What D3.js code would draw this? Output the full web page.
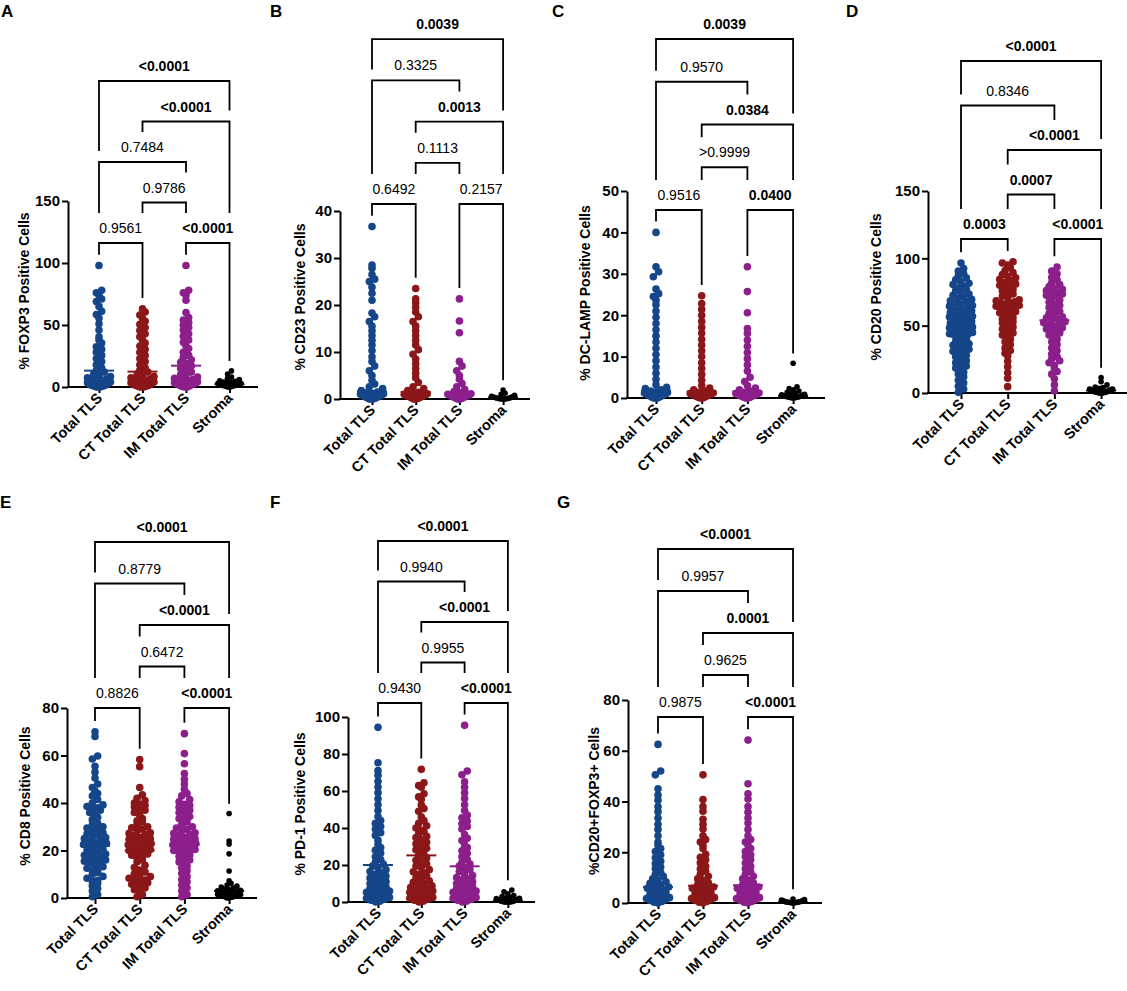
<!DOCTYPE html>
<html><head><meta charset="utf-8">
<script src="https://cdn.jsdelivr.net/npm/d3@7"></script>
<style>body{margin:0;background:#fff} svg{display:block} text{font-family:"Liberation Sans",Arial,Helvetica,sans-serif}</style>
</head><body><svg id="chart" width="1127" height="991"></svg>
<script>
const categories = ["Total TLS","CT Total TLS","IM Total TLS","Stroma"];
const colors = ["#15468a","#8b1719","#8c1f8c","#000000"];

// A: FOXP3
const foxp3Total = [0,0,0.3,0.5,0.8,1,1.2,1.5,2,2.5,3,3.5,4,4.5,5,5.5,6,6.5,7.5,8.5,9.5,10.5,12,13.5,15.5,18,20.5,23,25.5,28,30.5,32.5,35.5,38,40.5,46,51,55.5,58.5,61,65,69,71,74,76,78,98];
const foxp3Ct = [0,0,0.3,0.5,0.8,1,1.3,1.6,2,2.5,3,3.5,4,4.5,5,5.5,6,6.5,7.5,8.5,9.5,10.5,12,13.5,15.5,18,20.5,23,25.5,28,30.5,33,35.5,38,40.5,43,45.5,48,50.5,53,55.5,58,60.5,63];
const foxp3Im = [0,0,0.5,1,1.5,2,2.5,3,3.5,4,4.5,5,5.5,6,7,8,9,10,12,14,15,17,19,20,22,24,25.5,28,31,33,36,38,41,43,46,48,50,52,54,56,60,70,74,76,78,98];
const foxp3Stroma = [0,0,0.3,0.5,0.5,0.8,1,1,1,1.2,1.5,1.5,1.8,2,2,2,2.5,2.5,3,3,3.5,3.8,4,4.5,5,6,7,8,10.5,13];
const meanFoxp3 = [13.2,12.4,17.2,2.2];
const ticksFoxp3 = [0,50,100,150];
const pFoxp3 = ["<0.0001","<0.0001","0.7484","0.9786","0.9561","<0.0001"];

// B: CD23
const cd23Total = [0,0,0,0.1,0.2,0.3,0.4,0.5,0.6,0.7,0.8,0.9,1,1.1,1.2,1.3,1.5,1.8,2.2,2.6,3.2,4,5,6,7,8,9,10.3,11.5,12.5,13.5,14.5,15.5,16.5,17.5,18.3,21,22.5,23.8,25,25.5,26.5,27.8,28.5,36.7];
const cd23Ct = [0,0,0.1,0.2,0.3,0.4,0.5,0.6,0.7,0.8,0.9,1,1.1,1.2,1.4,1.8,2.2,2.6,3.5,4.5,5.5,6.5,7.5,8.5,9.5,10.5,11.5,12.5,13.5,14.5,15.5,16.5,17.5,18.5,19.5,20.5,21.3,23.5];
const cd23Im = [0,0,0.1,0.2,0.3,0.4,0.5,0.6,0.7,0.8,0.9,1,1.1,1.3,1.6,2,2.6,3.3,4.2,5,6,7,8,14.1,16.6,21.3];
const cd23Stroma = [0,0,0,0,0.1,0.1,0.2,0.2,0.3,0.3,0.4,0.5,0.6,0.8,1,1.2,1.9];
const meanCd23 = [1.6,1.5,1.2,0.3];
const ticksCd23 = [0,10,20,30,40];
const pCd23 = ["0.0039","0.3325","0.0013","0.1113","0.6492","0.2157"];

// C: DC-LAMP
const dclampTotal = [0,0,0,0.1,0.2,0.3,0.4,0.5,0.6,0.7,0.8,0.9,1,1.1,1.2,1.3,1.5,1.7,2,2.3,2.6,3.2,4.5,6,7.5,9,10.5,12,13.5,15,16.5,18,19.5,21,22.5,23.6,24.5,25.2,26.3,29.3,30.5,31.7,40];
const dclampCt = [0,0,0.1,0.2,0.3,0.4,0.5,0.6,0.7,0.8,0.9,1,1.1,1.2,1.4,1.7,2,2.4,3,4.3,5.7,7.1,8.5,10,11.4,12.8,14.2,15.7,17.1,18.5,20,21.4,22.8,24.7];
const dclampIm = [0,0,0.1,0.2,0.3,0.4,0.5,0.6,0.7,0.8,0.9,1,1.1,1.2,1.4,1.7,2,2.4,3,4,5,6.5,8,9.5,11,12.5,14,15.6,16.8,20.6,25.7,31.7];
const dclampStroma = [0,0,0.1,0.1,0.2,0.2,0.3,0.3,0.4,0.5,0.6,0.7,0.8,0.9,1,1.2,1.4,1.7,2,2.3,2.7,8.4];
const meanDclamp = [1.8,1.6,1.6,0.5];
const ticksDclamp = [0,10,20,30,40,50];
const pDclamp = ["0.0039","0.9570","0.0384",">0.9999","0.9516","0.0400"];

// D: CD20
const cd20Total = [0.5,3,5,7.5,9.5,12,14,15.5,17,18.5,20,21.5,22.5,24,25.5,27,28,29,30,31,32.5,33.5,34.5,35.5,36.5,37.5,38.5,40,41,42,43,43.5,44,45,45.5,46,47,47.5,48.5,49,50,50.5,51,52,53,53.5,54,55,55.5,56.5,57,58,58.5,59.5,60,61,61.5,62,63,63.5,64.5,65,66,67,68,68.5,69.5,70.5,71.5,72.5,73.5,75,76,77,78,79,80.5,81.5,82.5,84,85.5,87,88.5,90.5,92.5,96.5];
const cd20Ct = [4.7,11,15,19.5,23.5,27.5,29.5,31.5,33.5,36,38,40,42,43,44.5,46,47.5,49,50.5,52,53,54,55,56,57.5,58.5,59.5,60.5,61.5,62.2,63,63.8,64.5,65.2,65.8,66.5,67,67.8,68.5,69.3,70.5,72,73.5,75,76,77,78,79,80,81,82,83.5,84.5,85.5,86.5,88,89.5,91,93,95,96.5,97.5];
const cd20Im = [1.5,6,10.5,14,16,18.5,20.5,22.5,24,25.5,27,29,31.5,33.5,36,38,40,41.5,43,44.5,45.5,46.5,47.5,48.5,49.5,50.5,51.5,52.2,53,54,55,55.8,56.5,57.5,59,60.5,62,63.5,65,66,67.5,69,70.5,71.5,72.5,73.5,74,75,76,77,78,79,80.5,82,84,86,88.5,90.5,93.5];
const cd20Stroma = [0,0,0,0,0.3,0.5,0.5,0.5,0.8,1,1,1,1.2,1.5,1.5,2,2,2,2.5,2.5,3,3,3.5,4,4.5,6,8.4,11.4];
const meanCd20 = [57,64,54,1.8];
const ticksCd20 = [0,50,100,150];
const pCd20 = ["<0.0001","0.8346","<0.0001","0.0007","0.0003","<0.0001"];

// E: CD8
const cd8Total = [0.5,1.5,3,4,5.2,6.2,7,7.5,8.3,9.1,10,10.8,11.6,12.2,12.5,13.2,14,14.6,15,15.5,16,16.5,17,17.5,18,18.5,19,19.5,20,20.5,21,21.5,22,22.2,22.5,23,23.5,24,24.5,25,25.5,26,26.5,27,27.5,28.3,29,29.5,30,30.8,31.5,33,34,35,36,37,37.5,38,38.5,39.2,40,41.5,43,44,45,46.5,48,50.5,53,55.5,58.5,59.8,68,70];
const cd8Ct = [0.5,1.5,2.8,3.5,4.2,4.8,5.2,5.8,6.4,7,7.3,7.6,8.3,9,9.6,10.2,11,11.8,12.8,13.8,15.2,16,16.8,17.5,18,18.5,19,19.5,19.7,20,20.4,20.9,21.3,21.7,22.1,22.4,22.9,23.4,23.9,24.4,24.7,25,25.6,26.2,26.8,27.2,27.5,28.3,29,29.6,30,31,32,32.5,33.5,35,36,37,37.5,38.3,39,39.5,40,41,42,43.5,46.5,55.3,58.3];
const cd8Im = [0.5,1.5,3,4.2,5.5,6.8,7.8,9,10.3,11.5,12.6,13.5,14.4,15.2,16,16.8,17.5,18.1,18.7,19.3,19.7,20,20.4,20.9,21.3,21.7,22.1,22.4,22.9,23.4,23.9,24.4,24.7,25,25.6,26.2,26.8,27.2,27.5,28.2,28.9,29.5,30,31,32,32.5,33.5,34.3,35,36,37,37.5,38.2,39,39.5,40.5,41.5,43,44,45.8,48,50,52.4,56.5,60.8,69.2];
const cd8Stroma = [0,0,0.3,0.5,0.5,0.8,1,1,1.2,1.5,1.5,1.8,2,2,2.2,2.5,2.8,3,3.2,3.5,3.8,4.2,4.6,5,5.5,6.2,7.2,11.4,18.6,22.7,24,35.6];
const meanCd8 = [22,20,22.3,3];
const ticksCd8 = [0,20,40,60,80];
const pCd8 = ["<0.0001","0.8779","<0.0001","0.6472","0.8826","<0.0001"];

// F: PD-1
const pd1Total = [0,0.5,1,1.5,2,2.5,3,3.3,4,4.7,5.3,5.9,6.3,6.6,7.4,8.2,9,9.4,10,11,12,12.5,13,14,15,15.7,16.5,17.5,18.5,19.5,20.5,21.5,23,24.5,26.5,28,29.5,31,33.3,36,37.5,39.5,40.8,42.5,44,46.2,49.4,52.6,55.8,59,62.2,65.3,68.5,71,75.3,94.4];
const pd1Ct = [0,0.5,1,1.5,2,2.5,3,3.3,4,4.7,5.3,5.9,6.3,6.6,7.3,8,8.7,9.3,9.8,10.6,11.4,12.2,13,14,15,15.7,16.3,17.5,18.7,19.5,20.5,21.8,22.6,23.8,25,25.8,27,28.2,29,30.3,31.5,32.3,33.6,34.8,35.5,36.8,38,38.8,40,41.2,42.5,44,46,49,50.5,52.5,55.5,56.8,58.5,62,63,64.5,71.7];
const pd1Im = [0,0.5,1,1.5,2,2.5,3,3.3,4,4.7,5.3,5.9,6.3,6.6,7.4,8.2,9,9.4,10,11,12,12.5,13.2,14.3,15.3,16.5,17.5,18.5,19.5,20.5,21.5,23,24.5,26.3,27.7,29.5,31,33.2,34.5,36.5,39.5,40.8,42.3,43.8,45.5,47,49.4,52.6,56,59,62,65,68.8,70.8,95.5];
const pd1Stroma = [0,0,0,0,0.1,0.2,0.3,0.4,0.5,0.6,0.8,1,1,1.2,1.5,1.8,2,2.2,2.5,3,3.5,4.5,5.5,6.5];
const meanPd1 = [20,25.2,19.3,0.8];
const ticksPd1 = [0,20,40,60,80,100];
const pPd1 = ["<0.0001","0.9940","<0.0001","0.9955","0.9430","<0.0001"];

// G: CD20+FOXP3+
const cd20foxp3Total = [0,0.3,0.6,1,1.4,1.8,2.1,2.4,3,3.5,4,4.5,4.8,5.3,5.8,6.3,6.8,7.2,7.8,8.4,9,9.5,10.5,11.3,12,13.5,14.2,15.5,16.5,17.8,19,20.3,21.5,22.8,24,26.5,29,31,33.5,36,38,40.5,42.5,45,50.5,52,62.5];
const cd20foxp3Ct = [0,0.3,0.6,1,1.4,1.8,2.1,2.4,3,3.5,4,4.5,4.8,5.3,5.8,6.3,6.8,7.2,8,8.8,9.5,10.5,11.3,12.5,13.5,14.5,15.8,17,18,19.2,21.5,22.8,24,25,26.5,29.2,31,33,36.2,38,40.8,50.5];
const cd20foxp3Im = [0,0.3,0.6,1,1.4,1.8,2.1,2.4,3,3.5,4,4.5,4.8,5.3,5.8,6.3,6.8,7.2,8,8.8,9.5,10.5,11.3,12.3,13.5,14.5,15.8,17,18.3,19,20.3,21.5,22.8,24,25,26.5,29,31.5,33.5,35.8,38,41,43,47,64.2];
const cd20foxp3Stroma = [0,0,0.1,0.1,0.2,0.2,0.3,0.3,0.4,0.5,0.5,0.6,0.7,0.8,1,1,1.2,1.4,1.6];
const meanCd20foxp3 = [6.3,6.8,7,0.3];
const ticksCd20foxp3 = [0,20,40,60,80];
const pCd20foxp3 = ["<0.0001","0.9957","0.0001","0.9625","0.9875","<0.0001"];

// comparisons, top to bottom (last two share the lowest row)
const orderA = [[0,3],[1,3],[0,2],[1,2],[0,1],[2,3]];
const orderStd = [[0,3],[0,2],[1,3],[1,2],[0,1],[2,3]];

const panels = [
 {letter:"A", title:"% FOXP3 Positive Cells", groups:[foxp3Total,foxp3Ct,foxp3Im,foxp3Stroma], means:meanFoxp3, ticks:ticksFoxp3, p:pFoxp3, order:orderA,
  L:{ax:68, y0:387, yT:201, c0:99, step:43.5, xEnd:258, bB:243, bS:40.5, tx:24, ty:291, lx:1, ly:17}},
 {letter:"B", title:"% CD23 Positive Cells", groups:[cd23Total,cd23Ct,cd23Im,cd23Stroma], means:meanCd23, ticks:ticksCd23, p:pCd23, order:orderStd,
  L:{ax:340, y0:399, yT:211, c0:372, step:43.7, xEnd:530, bB:204, bS:41.2, tx:300, ty:297, lx:270, ly:17}},
 {letter:"C", title:"% DC-LAMP Positive Cells", groups:[dclampTotal,dclampCt,dclampIm,dclampStroma], means:meanDclamp, ticks:ticksDclamp, p:pDclamp, order:orderStd,
  L:{ax:627, y0:398, yT:191, c0:656, step:45.7, xEnd:825, bB:210, bS:42.75, tx:585, ty:293, lx:552, ly:17}},
 {letter:"D", title:"% CD20 Positive Cells", groups:[cd20Total,cd20Ct,cd20Im,cd20Stroma], means:meanCd20, ticks:ticksCd20, p:pCd20, order:orderStd,
  L:{ax:928, y0:393, yT:191, c0:961, step:46.7, xEnd:1127, bB:239, bS:44.5, tx:876, ty:287, lx:846, ly:17}},
 {letter:"E", title:"% CD8 Positive Cells", groups:[cd8Total,cd8Ct,cd8Im,cd8Stroma], means:meanCd8, ticks:ticksCd8, p:pCd8, order:orderStd,
  L:{ax:67, y0:898, yT:708, c0:95, step:44.7, xEnd:257, bB:708, bS:41.5, tx:25, ty:796, lx:0, ly:508}},
 {letter:"F", title:"% PD-1 Positive Cells", groups:[pd1Total,pd1Ct,pd1Im,pd1Stroma], means:meanPd1, ticks:ticksPd1, p:pPd1, order:orderStd,
  L:{ax:348, y0:902, yT:717, c0:378, step:43.3, xEnd:535, bB:703, bS:40.5, tx:300, ty:804, lx:270, ly:508}},
 {letter:"G", title:"%CD20+FOXP3+ Cells", groups:[cd20foxp3Total,cd20foxp3Ct,cd20foxp3Im,cd20foxp3Stroma], means:meanCd20foxp3, ticks:ticksCd20foxp3, p:pCd20foxp3, order:orderStd,
  L:{ax:628, y0:903, yT:700, c0:658, step:45, xEnd:822, bB:717, bS:42, tx:594, ty:801, lx:557, ly:508}}
];

const svg = d3.select("#chart");
svg.append("rect").attr("width",1127).attr("height",991).attr("fill","#fff");

const isSig = s => s.startsWith("<") ? true : (s.startsWith(">") ? false : parseFloat(s) < 0.05);
const radius = ci => ci === 3 ? 2.8 : 3.8;

function swarm(vals, y, y0, r) {
  const binH = r*1.45, sp = r*1.4, maxOff = 11.5;
  const pts = vals.map(v => ({v, y: y(v)}));
  const bins = d3.group(pts, d => Math.floor((y0 - d.y)/binH + 1e-6));
  const out = [];
  for (const [k, arr] of bins) {
    arr.sort((a,b) => a.v - b.v);
    const n = arr.length;
    const s = n > 1 ? Math.min(sp, 2*maxOff/(n-1)) : 0;
    const offs = d3.range(n).map(i => (i-(n-1)/2)*s).sort((a,b) => Math.abs(a)-Math.abs(b) || a-b);
    arr.forEach((p,i) => { p.dx = offs[i]; out.push(p); });
  }
  return out;
}

panels.forEach(P => {
  const L = P.L;
  const g = svg.append("g");
  const y = d3.scaleLinear().domain([0, d3.max(P.ticks)]).range([L.y0, L.yT]);
  const x = d3.scalePoint().domain(categories).range([L.c0, L.c0 + 3*L.step]);

  g.append("text").attr("x", L.lx).attr("y", L.ly).style("font-size","17px").style("font-weight","bold").text(P.letter);

  const ya = g.append("g").attr("transform", `translate(${L.ax},0)`)
    .call(d3.axisLeft(y).tickValues(P.ticks).tickSize(6).tickSizeOuter(0).tickPadding(2));
  ya.select(".domain").attr("stroke","#000").attr("stroke-width",2);
  ya.selectAll(".tick line").attr("stroke","#000").attr("stroke-width",2);
  ya.selectAll(".tick text").attr("fill","#000").style("font-size","15px").style("font-weight","bold")
    .style("font-family",'"Liberation Sans",Arial,Helvetica,sans-serif');

  const xa = g.append("g").attr("transform", `translate(0,${L.y0})`)
    .call(d3.axisBottom(x).tickSize(6).tickSizeOuter(0).tickFormat(() => ""));
  xa.select(".domain").remove();
  xa.selectAll(".tick line").attr("stroke","#000").attr("stroke-width",2);
  g.append("line").attr("x1", L.ax-1).attr("x2", L.xEnd).attr("y1", L.y0).attr("y2", L.y0)
    .attr("stroke","#000").attr("stroke-width",2);

  categories.forEach(c => {
    g.append("text").attr("transform", `translate(${x(c)+4},${L.y0+12}) rotate(-45)`)
      .attr("text-anchor","end").style("font-size","14.5px").style("font-weight","bold").text(c);
  });

  g.append("text").attr("transform", `translate(${L.tx + 5},${L.ty}) rotate(-90)`)
    .attr("text-anchor","middle").style("font-size","14px").style("font-weight","bold").text(P.title);

  P.groups.forEach((vals, ci) => {
    const r = radius(ci);
    const cx = x(categories[ci]);
    const pts = swarm(vals, y, L.y0, r);
    g.append("g").selectAll("circle").data(pts).join("circle")
      .attr("cx", d => cx + d.dx).attr("cy", d => d.y).attr("r", r).attr("fill", colors[ci]);
    g.append("line").attr("x1", cx-15).attr("x2", cx+15)
      .attr("y1", y(P.means[ci])).attr("y2", y(P.means[ci]))
      .attr("stroke", colors[ci]).attr("stroke-width", 2);
  });

  const lvl = idx => idx < 4 ? 4 - idx : 0;
  const brs = P.order.map((pair, idx) => ({
    i: pair[0], j: pair[1], x1: x(categories[pair[0]]), x2: x(categories[pair[1]]),
    ly: L.bB - lvl(idx)*L.bS, label: P.p[idx]
  }));
  brs.forEach(b => {
    const cxm = (b.x1 + b.x2)/2;
    const t = g.append("text").attr("x", cxm).attr("y", b.ly - 10).attr("text-anchor","middle")
      .style("font-size","14px").style("font-weight", isSig(b.label) ? "bold" : "normal").text(b.label);
    const w = t.node().getComputedTextLength();
    b.tx1 = cxm - w/2 - 3; b.tx2 = cxm + w/2 + 3;
  });
  const legEnd = (b, xv, ci) => {
    let end = y(d3.max(P.groups[ci])) - radius(ci) - 7;
    brs.forEach(o => {
      if (o.ly > b.ly + 1) {
        if (xv >= o.x1 - 0.5 && xv <= o.x2 + 0.5) end = Math.min(end, o.ly - 11);
        if (xv >= o.tx1 && xv <= o.tx2) end = Math.min(end, o.ly - 30);
      }
    });
    return end;
  };
  brs.forEach(b => {
    const e1 = legEnd(b, b.x1, b.i), e2 = legEnd(b, b.x2, b.j);
    g.append("path").attr("d", `M${b.x1},${e1}V${b.ly}H${b.x2}V${e2}`)
      .attr("fill","none").attr("stroke","#000").attr("stroke-width",1.8);
  });
});
</script></body></html>
